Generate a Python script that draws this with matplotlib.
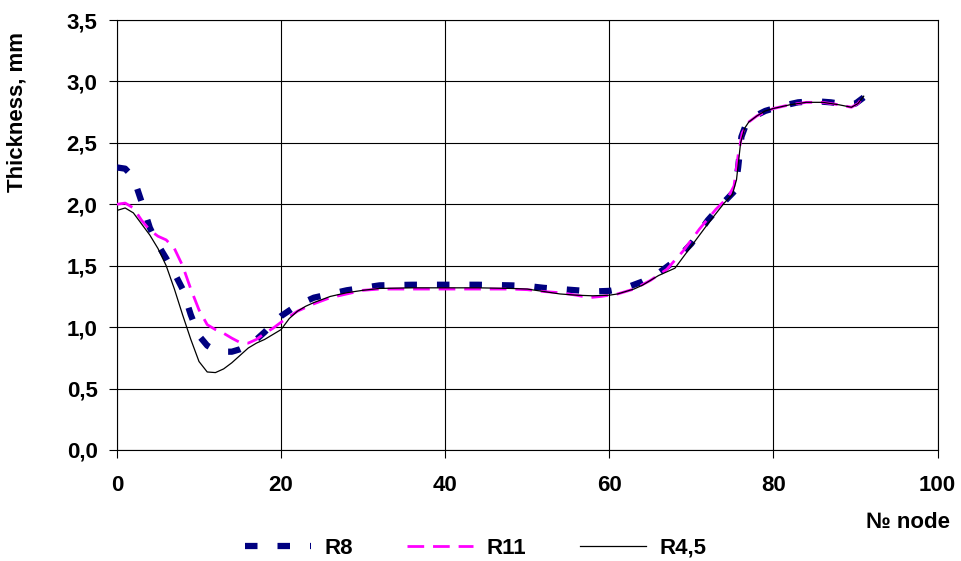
import matplotlib.pyplot as plt
from matplotlib.lines import Line2D

plt.rcParams['font.family'] = ['Liberation Sans', 'DejaVu Sans']
plt.rcParams['font.weight'] = 'bold'

# thickness along the profile, three radii
r8_node = [0, 1, 2, 3, 4, 5, 6, 7, 8, 9, 10, 11, 12, 13, 14, 15, 16, 17, 18, 19, 20,
           22, 24, 26, 28, 30, 32, 36, 40, 44, 48, 50, 52, 54, 56, 58, 60, 62, 64,
           66, 68, 70, 72, 74, 75.3, 75.7, 76.1, 76.6, 77.5, 79, 81, 83, 85, 87,
           89, 90, 91]
r8_thk = [2.30, 2.29, 2.22, 2.02, 1.81, 1.67, 1.56, 1.44, 1.31, 1.10, 0.93, 0.85,
          0.81, 0.80, 0.80, 0.82, 0.85, 0.90, 0.96, 1.03, 1.09, 1.18, 1.24, 1.27,
          1.30, 1.32, 1.34, 1.345, 1.345, 1.345, 1.34, 1.335, 1.32, 1.31, 1.30,
          1.29, 1.295, 1.32, 1.37, 1.44, 1.54, 1.68, 1.87, 2.02, 2.11, 2.30, 2.55,
          2.64, 2.71, 2.76, 2.80, 2.83, 2.84, 2.83, 2.81, 2.82, 2.87]

r11_node = [0, 1, 2, 3, 4, 5, 6, 7, 8, 9, 10, 11, 12, 13, 14, 15, 16, 17, 18, 19,
            20, 22, 24, 26, 28, 30, 32, 36, 40, 44, 48, 50, 52, 54, 56, 57.5, 59,
            61, 63, 65, 67, 69, 71, 73, 74.5, 75.2, 75.7, 76.2, 77, 78, 80, 82, 84,
            86, 88, 89.5, 90.3, 91]
r11_thk = [2.00, 2.01, 1.97, 1.87, 1.79, 1.74, 1.71, 1.64, 1.50, 1.31, 1.14, 1.02,
           0.98, 0.95, 0.91, 0.875, 0.87, 0.90, 0.95, 0.99, 1.04, 1.13, 1.19, 1.24,
           1.27, 1.30, 1.31, 1.31, 1.31, 1.31, 1.31, 1.305, 1.29, 1.28, 1.26, 1.24,
           1.25, 1.27, 1.31, 1.38, 1.47, 1.62, 1.80, 1.96, 2.06, 2.15, 2.40, 2.58,
           2.67, 2.72, 2.78, 2.81, 2.83, 2.83, 2.81, 2.79, 2.82, 2.88]

r45_node = [0, 1, 2, 3, 4, 5, 6, 7, 8, 9, 10, 11, 12, 13, 14, 15, 16, 17, 18, 19,
            20, 21, 22, 23, 24, 26, 28, 30, 32, 36, 40, 44, 48, 50, 52, 54, 56, 58,
            60, 61, 62, 63, 64, 66, 68, 70, 72, 74, 75, 75.5, 76, 76.5, 77, 78, 79,
            80, 82, 84, 86, 88, 89.5, 90.3, 91]
r45_thk = [1.95, 1.97, 1.93, 1.84, 1.75, 1.64, 1.50, 1.31, 1.10, 0.90, 0.72, 0.635,
           0.63, 0.66, 0.71, 0.77, 0.83, 0.87, 0.90, 0.94, 0.98, 1.07, 1.13, 1.17,
           1.20, 1.25, 1.28, 1.30, 1.315, 1.32, 1.32, 1.32, 1.315, 1.31, 1.29, 1.27,
           1.26, 1.255, 1.26, 1.27, 1.29, 1.31, 1.34, 1.42, 1.48, 1.66, 1.84, 2.01,
           2.08, 2.20, 2.50, 2.62, 2.67, 2.72, 2.76, 2.78, 2.81, 2.83, 2.83, 2.81,
           2.79, 2.82, 2.88]

x_ticks = [0, 20, 40, 60, 80, 100]
y_ticks = [0.0, 0.5, 1.0, 1.5, 2.0, 2.5, 3.0, 3.5]

NAVY = '#000080'
MAGENTA = '#FF00FF'

fig = plt.figure(figsize=(9.61, 5.61), dpi=100)
ax = fig.add_axes([0.1217, 0.1979, 0.8539, 0.7664])

ax.plot(r8_node, r8_thk, color=NAVY, lw=4.5, dashes=(2.0, 3.2),
        dash_capstyle='butt', label='R8', zorder=3)
ax.plot(r11_node, r11_thk, color=MAGENTA, lw=2.0, dashes=(6.0, 3.2),
        dash_capstyle='butt', label='R11', zorder=4)
ax.plot(r45_node, r45_thk, color='black', lw=0.9, label='R4,5', zorder=5)

ax.set_xlim(0, 100)
ax.set_ylim(0, 3.5)
ax.set_xticks(x_ticks)
ax.set_yticks(y_ticks)
ax.set_yticklabels([f'{v:.1f}'.replace('.', ',') for v in y_ticks])
ax.tick_params(axis='both', direction='out', length=6, width=0.8, labelsize=16,
               color='black')
ax.tick_params(axis='y', pad=8)
ax.tick_params(axis='x', pad=12)
ax.grid(True, color='black', lw=0.8)
ax.set_axisbelow(True)
for sp in ax.spines.values():
    sp.set_linewidth(0.8)
    sp.set_color('black')

ax.set_ylabel('Thickness, mm', fontsize=16, fontweight='bold')
ax.yaxis.set_label_coords(-0.1085, 0.786)
fig.text(0.989, 0.068, '№ node', fontsize=16, fontweight='bold',
         ha='right', va='center')

handles = [
    Line2D([], [], color=NAVY, lw=4.5, dashes=(2.0, 3.2), dash_capstyle='butt'),
    Line2D([], [], color=MAGENTA, lw=2.0, dashes=(6.0, 3.2), dash_capstyle='butt'),
    Line2D([], [], color='black', lw=0.9),
]
fig.legend(handles, ['R8', 'R11', 'R4,5'], loc='center', ncol=3,
           bbox_to_anchor=(0.495, 0.023), frameon=False,
           handlelength=3.0, handletextpad=0.6, columnspacing=2.4,
           prop={'weight': 'bold', 'size': 16})

fig.savefig('out.png', dpi=100)
